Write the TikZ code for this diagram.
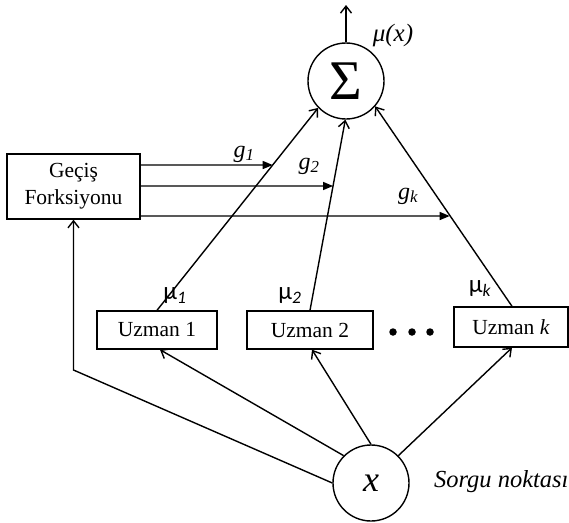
\documentclass[tikz,border=0pt]{standalone}
\usepackage{fontspec}
\setmainfont{Liberation Serif}
\newfontfamily\mufont{Carlito}
\usetikzlibrary{arrows.meta,calc}
\newcommand\lowidx[1]{\textsubscript{\itshape #1}}

\begin{document}
\begin{tikzpicture}[x=1pt,y=-1pt,line width=1.4pt,
  box/.style={draw,rectangle,inner sep=0pt,minimum height=38pt,font=\fontsize{21.5}{27}\selectfont},
  ring/.style={draw,circle,inner sep=0pt,minimum size=76pt},
  barb/.style={-{Straight Barb[length=7pt,width=11pt]}},
  feed/.style={-{Triangle[length=10pt,width=8pt]}},
  glab/.style={font=\fontsize{24}{26}\selectfont\itshape},
  mulab/.style={font=\mufont\fontsize{25}{28}\selectfont}]
\useasboundingbox (0,0) rectangle (569,522);

% summation node and its output
\node[ring,font=\fontsize{56}{58}\selectfont] (sigma) at (346,81) {Σ};
\coordinate (out) at (346,5);
\draw[barb] (sigma.north) -- (out);
\node[font=\fontsize{25}{28}\selectfont\itshape] (mux) at (393,35) {μ(x)};

% gating network
\node[box,align=center,minimum width=133pt,minimum height=65pt] (gate) at (73.5,186.5) {Geçiş\\Forksiyonu};

% experts
\node[box,minimum width=120pt] (u1) at (157,330) {Uzman 1};
\node[box,minimum width=126pt] (u2) at (310,330) {Uzman 2};
\node[box,minimum width=114pt,minimum height=40pt] (uk) at (511,327) {Uzman \textit{k}};
\foreach \i/\px in {1/393,2/412,3/430}
  \node[circle,fill,inner sep=0pt,minimum size=7.5pt] (dot\i) at (\px,332) {};

% query point
\node[ring,font=\fontsize{36}{40}\selectfont\itshape] (xq) at (371,483) {x};
\node[anchor=west,font=\fontsize{24.5}{27}\selectfont\itshape] (qlab) at (430,482) {Sorgu noktası};

% expert outputs into the sum
\draw[barb] (u1.north) -- (sigma.-136);
\draw[barb] (u2.north) -- (sigma.-91);
\draw[barb] ([xshift=1pt]uk.north) -- (sigma.-41);
\node[mulab] (m1) at (175,296) {μ\lowidx{1}};
\node[mulab] (m2) at (290,296) {μ\lowidx{2}};
\node[mulab] (mk) at (480,289) {μ\lowidx{k}};

% gating weights onto the expert lines
\coordinate (g1s) at ([yshift=21.5pt]gate.east);
\coordinate (g2s) at ([yshift=0.5pt]gate.east);
\coordinate (gks) at ([yshift=-29.5pt]gate.east);
\coordinate (g1r) at ([xshift=400pt]g1s);
\coordinate (g2r) at ([xshift=400pt]g2s);
\coordinate (gkr) at ([xshift=400pt]gks);
\coordinate (g1e) at (intersection of g1s--g1r and u1.north--sigma.-136);
\coordinate (g2e) at (intersection of g2s--g2r and u2.north--sigma.-91);
\coordinate (gke) at (intersection of gks--gkr and uk.north--sigma.-41);
\draw[feed] (g1s) -- (g1e);
\draw[feed] (g2s) -- (g2e);
\draw[feed] (gks) -- (gke);
\node[glab] (g1) at (244,154) {g\lowidx{1}};
\node[glab] (g2) at (309,166) {g\lowidx{2}};
\node[glab] (gk) at (408,196) {g\lowidx{k}};

% query feeds experts and gate
\draw[barb] (xq.135) -- ([xshift=3pt]u1.south);
\draw[barb] (xq.north) -- ([xshift=2pt]u2.south);
\draw[barb] (xq.45) -- ([xshift=1pt]uk.south);
\coordinate (bend) at (gate.south |- 0,370);
\draw[barb,line join=miter] (xq.west) -- (bend) -- (gate.south);
\end{tikzpicture}
\end{document}
